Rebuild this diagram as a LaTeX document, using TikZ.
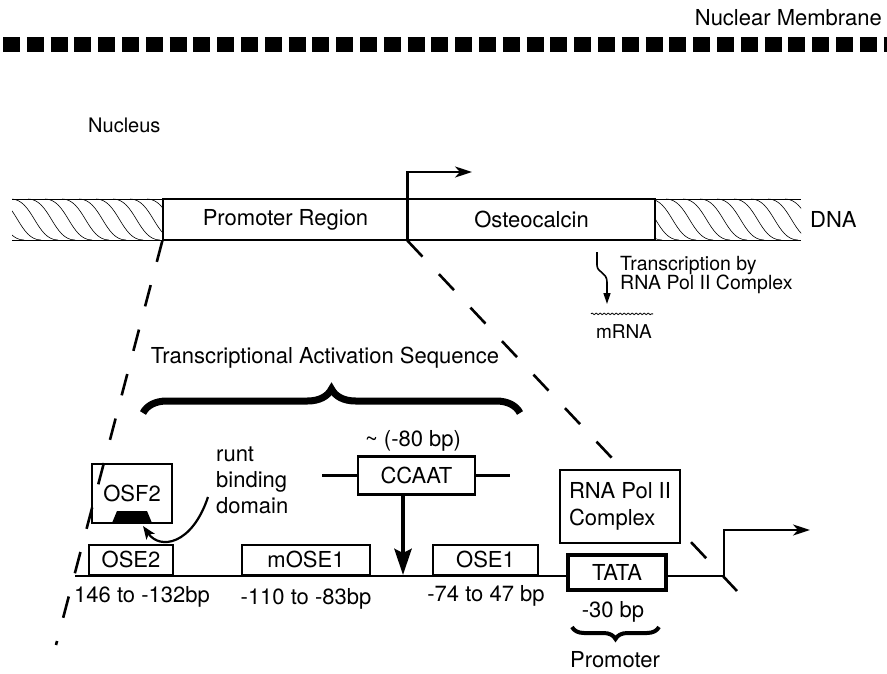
\documentclass[tikz,border=0pt]{standalone}
\usepackage{fontspec}
\setmainfont{TeX Gyre Heros}
\usepackage{tikz}
\usetikzlibrary{arrows.meta,calc,decorations.pathreplacing,decorations.pathmorphing,positioning}

\begin{document}
\begin{tikzpicture}[x=1pt,y=-1pt,
    lab/.style={font=\fontsize{22}{26}\selectfont, inner sep=0pt},
    sm/.style={font=\fontsize{20}{22}\selectfont, inner sep=0pt},
    genebox/.style={draw, line width=1.2pt, minimum height=41pt, inner sep=0pt, font=\fontsize{22}{26}\selectfont},
    site/.style={draw, line width=2.4pt, minimum height=30pt, inner sep=0pt, font=\fontsize{22}{26}\selectfont, fill=white},
    hatch/.style={line width=0.6pt},
    cut/.style={line width=2.6pt, dash pattern=on 22pt off 24pt},
    tss/.style={line width=2.4pt, -{Stealth[length=17pt,width=11pt,inset=5pt]}}]
  \useasboundingbox (0,0) rectangle (887,674);

  \draw[line width=15pt, dash pattern=on 17pt off 6.8pt] (3,45) -- (887,45);
  \node[lab, anchor=east] (membrane) at (882,18) {Nuclear Membrane};
  \node[sm, anchor=west] (nucleus) at (88,125) {Nucleus};

  \begin{scope}
    \clip (12,199) rectangle (163,240);
    \foreach \hx in {-40,-23,...,170}
      \draw[hatch] (\hx,199) .. controls (\hx+22,199) and (\hx+25,240) .. (\hx+47,240);
  \end{scope}
  \begin{scope}
    \clip (655,199) rectangle (801,240);
    \foreach \hx in {615,632,...,810}
      \draw[hatch] (\hx,199) .. controls (\hx+22,199) and (\hx+25,240) .. (\hx+47,240);
  \end{scope}
  \draw[hatch] (12,199) -- (163,199) (12,240) -- (163,240);
  \draw[hatch] (655,199) -- (801,199) (655,240) -- (801,240);
  \node[genebox, minimum width=245pt] (prom) at (285.5,219.5) {Promoter Region};
  \node[genebox, minimum width=247pt] (osteo) at (531.5,219.5) {Osteocalcin};
  \node[lab, anchor=west] (dna) at (810,219.5) {DNA};

  \coordinate (tsstop) at (472,172);
  \draw[tss] (osteo.south west) -- (osteo.south west |- tsstop) -- (tsstop);

  \node[font=\fontsize{19.5}{19}\selectfont, inner sep=0pt, anchor=west, align=left] (txlab) at (620,275) {Transcription by\\RNA Pol II Complex};
  \coordinate (txtop) at (597,252);
  \coordinate (txend) at (607,304);
  \draw[line width=1.6pt, -{Triangle[length=11pt,width=7pt]}] (txtop) -- (597,265)
    .. controls (597,273) and (607,272) .. (607,282) -- (txend);
  \node[font=\fontsize{19}{21}\selectfont, inner sep=0pt] (mrna) at (624,332) {mRNA};
  \draw[line width=0.8pt, decorate, decoration={snake,amplitude=0.8pt,segment length=4pt}]
    ($(mrna.north west)+(-5,-11)$) -- ($(mrna.north east)+(1,-11)$);

  \coordinate (cutl) at (56,645);
  \coordinate (cutr) at (737,591);
  \draw[cut] (prom.south west) -- (cutl);
  \draw[cut] (osteo.south west) -- (cutr);

  \node[lab] (tas) at (325,358) {Transcriptional Activation Sequence};
  \draw[line width=7pt, decorate, decoration={brace,amplitude=24pt}] (143,413) -- (520,413);

  \node[lab] (m80) at (413,441) {\textasciitilde\ (-80 bp)};
  \node[site, minimum width=117pt, minimum height=38pt] (ccaat) at (416.5,475.5) {CCAAT};
  \coordinate (ccl) at (322,475.5);
  \coordinate (ccr) at (510,475.5);
  \draw[line width=2.4pt] (ccl) -- (ccaat.west) (ccaat.east) -- (ccr);

  \coordinate (base0) at (75,576);
  \coordinate (tssb) at (724,576);
  \draw[line width=2.6pt] (base0) -- (tssb);
  \coordinate (ccend) at (403,575);
  \draw[line width=4.5pt, -{Stealth[length=26pt,width=17pt,inset=4pt]}] (ccaat.south -| ccend) -- (ccend);

  \node[draw, line width=2.4pt, minimum width=80pt, minimum height=59pt, inner sep=0pt,
    font=\fontsize{22}{26}\selectfont] (osf2) at (132,493.5) {OSF2};
  \fill (112,523) -- (117,511) -- (147,511) -- (152,523) -- cycle;
  \coordinate (rbdtip) at (143,526);
  \node[lab, align=left, anchor=west] (runt) at (216,480) {runt\\binding\\domain};
  \coordinate (runtfrom) at (208,497);
  \draw[line width=2.2pt, -{Stealth[length=13pt,width=10pt,inset=3pt]}] (runtfrom)
    .. controls (192,545) and (160,550) .. (rbdtip);

  \node[site, minimum width=84pt, anchor=south] (ose2) at (131,576) {OSE2};
  \node[site, minimum width=128pt, anchor=south] (mose1) at (306,576) {mOSE1};
  \node[site, minimum width=105pt, anchor=south] (ose1) at (485.5,576) {OSE1};
  \node[site, line width=4.5pt, minimum width=98pt, minimum height=35pt] (tata) at (617,572.5) {TATA};

  \node[draw, fill=white, line width=1.2pt, minimum width=120pt, minimum height=73pt, inner sep=0pt,
    align=left, font=\fontsize{22}{27}\selectfont] (pol) at (620,506.5) {RNA Pol II\\Complex};

  \coordinate (tss2) at (810,530);
  \draw[tss] (tssb) -- (tssb |- tss2) -- (tss2);

  \node[lab] (ose2pos) at (142,597) {146 to -132bp};
  \node[lab] (mose1pos) at (306,599) {-110 to -83bp};
  \node[lab] (ose1pos) at (486,596) {-74 to 47 bp};
  \node[lab] (tatapos) at (613,612) {-30 bp};
  \draw[line width=4pt, decorate, decoration={brace,amplitude=12pt}] (659,627) -- (572,627);
  \node[lab] (promlab) at (615,660) {Promoter};
\end{tikzpicture}
\end{document}
